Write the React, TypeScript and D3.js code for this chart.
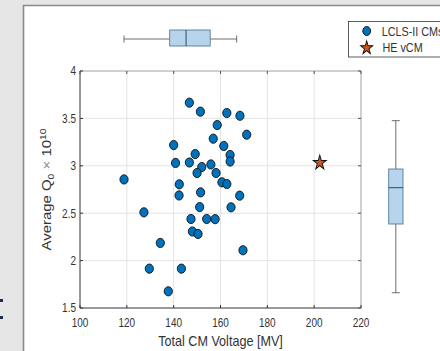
import React from "react";
import * as d3 from "d3";

// ---- data ----
const cmVoltage = [146.7, 151.4, 162.7, 168.3, 158.6, 171.2, 156.9, 140.0, 161.4, 149.2, 164.1, 164.1, 140.8, 146.7, 152.0, 155.9, 150.0, 158.1, 118.8, 142.4, 160.6, 162.7, 142.3, 151.5, 168.2, 127.3, 151.1, 164.5, 147.4, 154.1, 157.7, 148.0, 150.4, 134.3, 169.6, 129.6, 143.3, 137.7];
const avgQ0 = [3.666, 3.571, 3.557, 3.528, 3.430, 3.328, 3.286, 3.219, 3.209, 3.124, 3.114, 3.045, 3.030, 3.035, 2.987, 3.014, 2.924, 2.924, 2.856, 2.805, 2.826, 2.808, 2.687, 2.720, 2.685, 2.509, 2.565, 2.562, 2.439, 2.439, 2.437, 2.307, 2.281, 2.186, 2.109, 1.915, 1.915, 1.676];
const heVoltage = [202.4];
const heQ0 = [3.037];
// boxplot stats: [lowWhisker, q1, median, q3, highWhisker]
const voltageBox = [118.8, 138.3, 145.3, 155.6, 166.9];
const q0Box = [1.661, 2.386, 2.769, 2.966, 3.476];
const xTicks = [100, 120, 140, 160, 180, 200, 220];
const yTicks = [1.5, 2, 2.5, 3, 3.5, 4];
const legendLabels = ["LCLS-II CMs", "HE vCM"];

const W = 440, H = 351;
const L = 80, R = 361, T = 71, B = 308;
const SY = 1.2; // vertical stretch of text
const FONT = "'Liberation Sans', Arial, Helvetica, sans-serif";
const TXT = "#333333";

const x = d3.scaleLinear().domain([100, 220]).range([L, R]);
const y = d3.scaleLinear().domain([1.5, 4]).range([B, T]);

const starPath = (area: number) => d3.symbol().type(d3.symbolStar).size(area)() as string;

function Txt({ px, py, anchor = "start", size = 10, children }: any) {
  return (
    <text
      transform={`translate(${px},${py}) scale(1,${SY})`}
      textAnchor={anchor}
      fontSize={size}
      fontFamily={FONT}
      fill={TXT}
    >
      {children}
    </text>
  );
}

export default function App() {
  const boxFill = "#b6d5ed";
  const boxStroke = "#55799a";
  const whisk = "#4a4a4a";
  const [vLo, vQ1, vMed, vQ3, vHi] = voltageBox;
  const [qLo, qQ1, qMed, qQ3, qHi] = q0Box;
  const hbY0 = 30, hbY1 = 46, hbYc = 39;
  const vbX0 = 388.7, vbX1 = 403, vbXc = 395.8;
  return (
    <svg width={W} height={H} style={{ position: "absolute", left: 0, top: 0, background: "#fff" }}>
      {/* slide background */}
      <rect x={0} y={0} width={23} height={H} fill="#e6e6e6" />
      <rect x={0} y={0} width={W} height={5} fill="#e6e6e6" />
      <rect x={0} y={299} width={3} height={3} fill="#1d2b4c" />
      <rect x={0} y={316} width={3} height={3} fill="#1d2b4c" />
      <path d={`M23.5,${H} V5.5 H${W}`} fill="none" stroke="#8a8a8a" strokeWidth={1.6} />

      {/* grid */}
      {xTicks.slice(1, -1).map((t) => (
        <line key={"gx" + t} x1={x(t)} x2={x(t)} y1={T} y2={B} stroke="#e3e3e3" strokeWidth={1} />
      ))}
      {yTicks.slice(1, -1).map((t) => (
        <line key={"gy" + t} x1={L} x2={R} y1={y(t)} y2={y(t)} stroke="#e3e3e3" strokeWidth={1} />
      ))}

      {/* axes box */}
      <line x1={L} x2={R} y1={T} y2={T} stroke="#a0a0a0" strokeWidth={1} />
      <line x1={R} x2={R} y1={T} y2={B} stroke="#a0a0a0" strokeWidth={1} />
      <line x1={L} x2={R} y1={B} y2={B} stroke="#333" strokeWidth={1} />
      <line x1={L} x2={L} y1={T} y2={B} stroke="#333" strokeWidth={1} />
      {xTicks.map((t) => (
        <g key={"tx" + t}>
          <line x1={x(t)} x2={x(t)} y1={B} y2={B - 3} stroke="#333" />
          <line x1={x(t)} x2={x(t)} y1={T} y2={T + 3} stroke="#555" />
          <Txt px={x(t)} py={327} anchor="middle" size={10}>{t}</Txt>
        </g>
      ))}
      {yTicks.map((t) => (
        <g key={"ty" + t}>
          <line x1={L} x2={L + 3} y1={y(t)} y2={y(t)} stroke="#333" />
          <line x1={R} x2={R - 3} y1={y(t)} y2={y(t)} stroke="#555" />
          <Txt px={76} py={y(t) + 4.3} anchor="end" size={10}>{String(t)}</Txt>
        </g>
      ))}

      {/* axis labels */}
      <Txt px={(L + R) / 2} py={346} anchor="middle" size={12.6}>Total CM Voltage [MV]</Txt>
      <text
        transform={`translate(51,${(T + B) / 2}) rotate(-90) scale(1.15,1)`}
        textAnchor="middle"
        fontSize={13}
        fontFamily={FONT}
        fill={TXT}
      >
        Average Q<tspan fontSize={9} dy={3}>0</tspan>
        <tspan dy={-3} fill="#8a8a8a"> × </tspan>
        <tspan>10</tspan>
        <tspan fontSize={9} dy={-5}>10</tspan>
      </text>

      {/* scatter */}
      {cmVoltage.map((v, i) => (
        <ellipse key={"p" + i} cx={x(v)} cy={y(avgQ0[i])} rx={4.1} ry={4.6} fill="#0072BD" stroke="#111" strokeWidth={0.9} />
      ))}
      {heVoltage.map((v, i) => (
        <path
          key={"s" + i}
          d={starPath(52)}
          transform={`translate(${x(v)},${y(heQ0[i]) + 0.5}) scale(1,1.12)`}
          fill="#D95319"
          stroke="#111"
          strokeWidth={0.9}
        />
      ))}

      {/* top boxplot */}
      <line x1={x(vLo)} x2={x(vQ1)} y1={hbYc} y2={hbYc} stroke={whisk} strokeWidth={0.8} />
      <line x1={x(vQ3)} x2={x(vHi)} y1={hbYc} y2={hbYc} stroke={whisk} strokeWidth={0.8} />
      <line x1={x(vLo)} x2={x(vLo)} y1={hbYc - 3.5} y2={hbYc + 3.5} stroke={whisk} strokeWidth={0.8} />
      <line x1={x(vHi)} x2={x(vHi)} y1={hbYc - 3.5} y2={hbYc + 3.5} stroke={whisk} strokeWidth={0.8} />
      <rect x={x(vQ1)} y={hbY0} width={x(vQ3) - x(vQ1)} height={hbY1 - hbY0} fill={boxFill} stroke={boxStroke} strokeWidth={0.9} />
      <line x1={x(vMed)} x2={x(vMed)} y1={hbY0} y2={hbY1} stroke="#2f4a63" strokeWidth={1} />

      {/* right boxplot */}
      <line x1={vbXc} x2={vbXc} y1={y(qHi)} y2={y(qQ3)} stroke={whisk} strokeWidth={0.8} />
      <line x1={vbXc} x2={vbXc} y1={y(qQ1)} y2={y(qLo)} stroke={whisk} strokeWidth={0.8} />
      <line x1={vbXc - 4} x2={vbXc + 4} y1={y(qHi)} y2={y(qHi)} stroke={whisk} strokeWidth={0.8} />
      <line x1={vbXc - 4} x2={vbXc + 4} y1={y(qLo)} y2={y(qLo)} stroke={whisk} strokeWidth={0.8} />
      <rect x={vbX0} y={y(qQ3)} width={vbX1 - vbX0} height={y(qQ1) - y(qQ3)} fill={boxFill} stroke={boxStroke} strokeWidth={0.9} />
      <line x1={vbX0} x2={vbX1} y1={y(qMed)} y2={y(qMed)} stroke="#2f4a63" strokeWidth={1} />

      {/* legend */}
      <rect x={348.5} y={21.5} width={120} height={35.5} fill="#fff" stroke="#333" strokeWidth={0.8} />
      <ellipse cx={366.7} cy={31} rx={3.9} ry={4.5} fill="#0072BD" stroke="#111" strokeWidth={0.9} />
      <path d={starPath(44)} transform={`translate(366.7,48) scale(1,1.12)`} fill="#D95319" stroke="#111" strokeWidth={0.9} />
      <Txt px={381.7} py={35.5} size={10.8}>{legendLabels[0]}</Txt>
      <Txt px={382.5} py={51.7} size={10.8}>{legendLabels[1]}</Txt>
    </svg>
  );
}
